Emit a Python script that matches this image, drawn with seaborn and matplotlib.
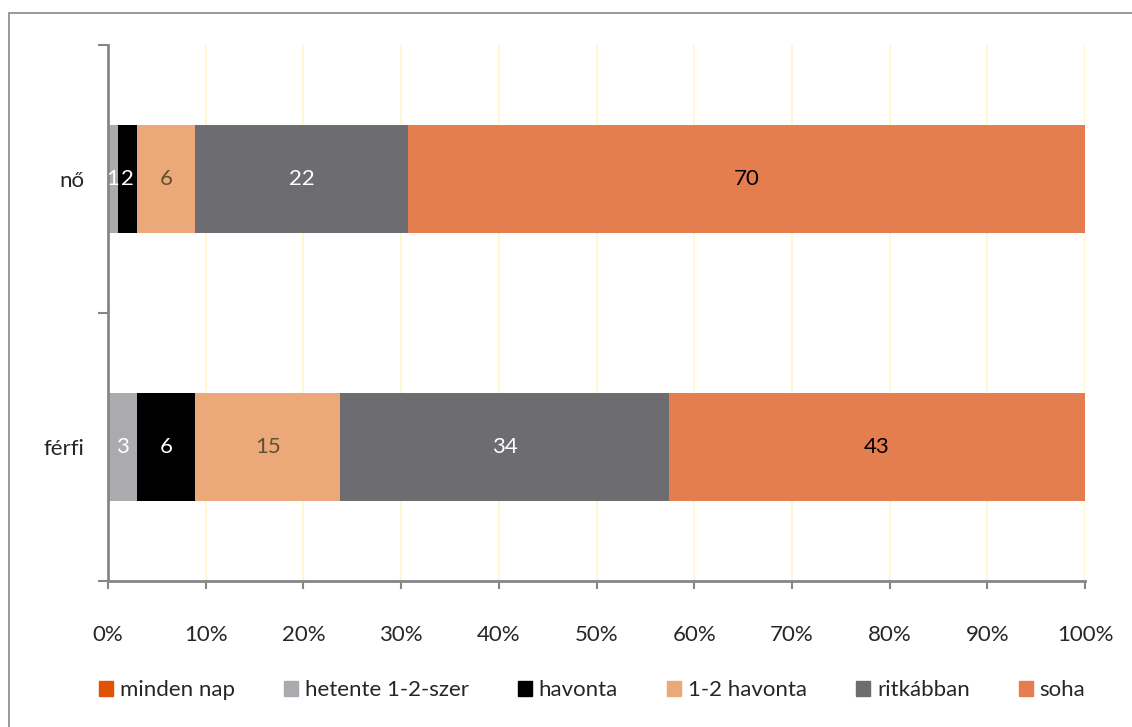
import pandas as pd
import numpy as np
import matplotlib
matplotlib.use('Agg')
import matplotlib.pyplot as plt
import matplotlib.patches as mpatches
import seaborn as sns

# Data
groups = ['nő', 'férfi']
series = ['minden nap', 'hetente 1-2-szer', 'havonta', '1-2 havonta', 'ritkábban', 'soha']
values = {
    'minden nap':       [0, 0],
    'hetente 1-2-szer': [1, 3],
    'havonta':          [2, 6],
    '1-2 havonta':      [6, 15],
    'ritkábban':        [22, 34],
    'soha':             [70, 43],
}
colors = ['#E05206', '#ABABAF', '#000000', '#EBA878', '#6D6C71', '#E57E4E']
label_colors = ['white', 'white', 'white', '#5E5232', 'white', 'black']

sns.set_style('white')
plt.rcParams['font.family'] = ['Lato', 'DejaVu Sans']

df = pd.DataFrame(values, index=groups)
pct = df.div(df.sum(axis=1), axis=0) * 100
cum = pct.cumsum(axis=1)

fig = plt.figure(figsize=(11.32, 7.27), dpi=100)
ax = fig.add_axes([108 / 1132, 1 - 581 / 727, 977 / 1132, 536 / 727])

# Stacked bars: draw cumulative totals from largest to smallest
for i in range(len(series) - 1, -1, -1):
    s = series[i]
    plot_df = pd.DataFrame({'group': groups, 'val': cum[s].values})
    sns.barplot(data=plot_df, x='val', y='group', order=groups, color=colors[i],
                orient='h', width=0.4, saturation=1, ax=ax, linewidth=0)

# Value labels
for gi, g in enumerate(groups):
    for si, s in enumerate(series):
        v = df.loc[g, s]
        if v == 0:
            continue
        mid = cum.loc[g, s] - pct.loc[g, s] / 2
        ax.text(mid, gi, str(v), ha='center', va='center', fontsize=16,
                color=label_colors[si])

ax.set_xlim(0, 100)
ax.set_ylim(1.5, -0.5)
ax.set_xticks(np.arange(0, 101, 10))
ax.set_xticklabels([f'{t}%' for t in range(0, 101, 10)], fontsize=16)
ax.xaxis.grid(True, color='#FFF6C8', linewidth=1.2)
ax.set_axisbelow(True)
ax.set_yticks([0, 1])
ax.set_yticklabels(groups, fontsize=16)
ax.set_yticks([-0.5, 0.5, 1.5], minor=True)
ax.tick_params(axis='y', which='major', left=True, length=0, pad=17)
ax.tick_params(axis='y', which='minor', left=True, length=7, width=1.5,
               color='#868686', direction='out')
ax.tick_params(axis='x', which='major', bottom=True, length=6, width=1.5,
               color='#868686', direction='out', pad=26)
ax.set_xlabel('')
ax.set_ylabel('')
for side in ['top', 'right']:
    ax.spines[side].set_visible(False)
for side in ['left', 'bottom']:
    ax.spines[side].set_color('#868686')
    ax.spines[side].set_linewidth(2)

handles = [mpatches.Patch(color=c, label=s) for s, c in zip(series, colors)]
fig.legend(handles=handles, loc='center', bbox_to_anchor=(0.523, 1 - 690 / 727), ncol=6,
           frameon=False, fontsize=16, handlelength=0.65, handleheight=0.65,
           handletextpad=0.3, columnspacing=2.2)

# Outer chart border
fig.patches.append(mpatches.Rectangle((9 / 1132, -0.05), 1.1, 1 - 13 / 727 + 0.05,
                                      transform=fig.transFigure, fill=False,
                                      edgecolor='#888888', linewidth=1.2))

fig.savefig('out.png', dpi=100)
